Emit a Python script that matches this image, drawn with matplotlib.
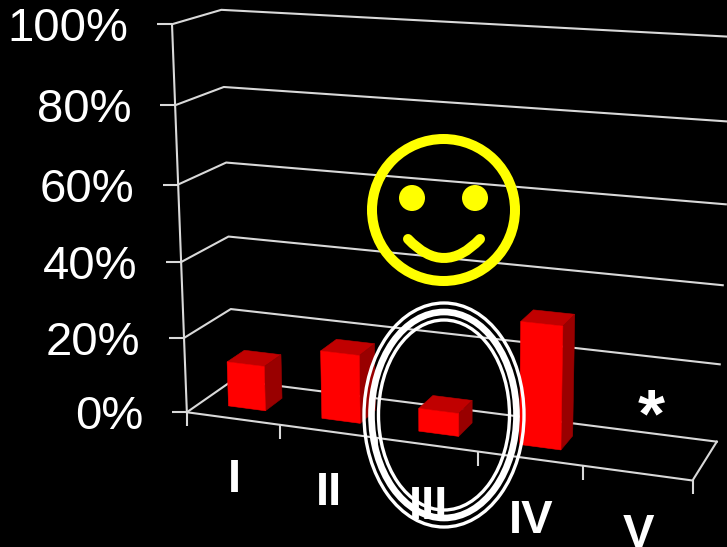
import numpy as np
import matplotlib
matplotlib.use("Agg")
import matplotlib.pyplot as plt
from matplotlib.patches import Polygon, Ellipse, Circle, PathPatch
from matplotlib.path import Path

# ---- data -----
categories = ["I", "II", "III", "IV", "V"]
values = [12, 18, 6, 31.5, 0]
value_ticks = [0, 20, 40, 60, 80, 100]
value_labels = ["0%", "20%", "40%", "60%", "80%", "100%"]
star_category = 4

# ---- camera calibration: (category pos, value, depth) -> picture pixel ----
calib = []
for v, fl, bl, br in zip(
    value_ticks,
    [(187, 412), (185, 338), (181, 262), (178, 184), (175, 105), (172, 24)],
    [(232, 380), (231, 309), (229, 237), (226, 163), (224, 87), (221, 10)],
    [(717, 441), (720, 364), (723, 285), (726, 204), (729, 122), (732, 37)],
):
    calib += [(0, v, 0, *fl), (0, v, 1, *bl), (5, v, 1, *br)]
calib += [(1, 0, 0, 280, 425), (2, 0, 0, 378, 438), (3, 0, 0, 478, 452),
          (4, 0, 0, 583, 466), (5, 0, 0, 692, 481)]
rows, rhs = [], []
for x, v, z, u, w in calib:
    X = [x, v / 100, z, 1]
    rows.append(X + [0, 0, 0, 0] + [-u * c for c in X[:3]]); rhs.append(u)
    rows.append([0, 0, 0, 0] + X + [-w * c for c in X[:3]]); rhs.append(w)
sol = np.linalg.lstsq(np.array(rows, float), np.array(rhs, float), rcond=None)[0]
P = np.append(sol, 1).reshape(3, 4)


def proj(x, v, z):
    h = P @ np.array([x, v / 100, z, 1.0])
    return (h[0] / h[2], h[1] / h[2])


# ---- figure ----
fig = plt.figure(figsize=(7.27, 5.47), dpi=100, facecolor="black")
ax = fig.add_axes([0, 0, 1, 1])
ax.set_xlim(0, 727)
ax.set_ylim(547, 0)
ax.axis("off")
plt.rcParams["font.family"] = ["Liberation Sans", "DejaVu Sans"]

GRID = "#D9D9D9"
LW = 1.5
n = len(categories)


def seg(a, b, lw=LW):
    ax.plot([a[0], b[0]], [a[1], b[1]], color=GRID, lw=lw, solid_capstyle="butt",
            solid_joinstyle="miter", zorder=1)


# walls + floor
for v, lab in zip(value_ticks, value_labels):
    fl, bl, br = proj(0, v, 0), proj(0, v, 1), proj(n, v, 1)
    ax.plot([fl[0], bl[0], br[0]], [fl[1], bl[1], br[1]], color=GRID, lw=LW, zorder=1)
    seg((fl[0] - 15, fl[1]), fl)
    ax.text(fl[0] - 43.5, fl[1] + 17, lab, color="white", fontsize=34, ha="right",
            va="baseline", zorder=6)
seg(proj(0, 100, 0), proj(0, 0, 0))
a = proj(0, 0, 0)
seg(a, (a[0], a[1] + 14))
ax.plot(*zip(proj(0, 0, 0), proj(n, 0, 0), proj(n, 0, 1)), color=GRID, lw=LW, zorder=1)
for i in range(1, n + 1):
    a = proj(i, 0, 0)
    seg(a, (a[0], a[1] + 14))

# bars
W0, W1, Z0, Z1 = 0.30, 0.70, 0.30, 0.68
for i, val in enumerate(values):
    if val <= 0:
        continue
    x0, x1 = i + W0, i + W1
    top = [proj(x0, val, Z0), proj(x1, val, Z0), proj(x1, val, Z1), proj(x0, val, Z1)]
    side = [proj(x1, 0, Z0), proj(x1, val, Z0), proj(x1, val, Z1), proj(x1, 0, Z1)]
    front = [proj(x0, 0, Z0), proj(x1, 0, Z0), proj(x1, val, Z0), proj(x0, val, Z0)]
    ax.add_patch(Polygon(top, fc="#C00000", ec="#C00000", lw=0.4, zorder=3))
    ax.add_patch(Polygon(side, fc="#990000", ec="#990000", lw=0.4, zorder=3))
    ax.add_patch(Polygon(front, fc="#FF0000", ec="#FF0000", lw=0.4, zorder=3))

# category labels
for i, lab in enumerate(categories):
    u, w = proj(i + 0.5, 0, 0)
    ax.text(u + 1, w + 74, lab, color="white", fontsize=34, fontweight="bold",
            ha="center", va="baseline", zorder=6)

# star on the empty category
u, w = proj(star_category + 0.5, 0, 0.5)
ax.text(u, w - 17, "*", color="white", fontsize=50, fontweight="bold",
        ha="center", va="baseline", zorder=6)

# triple ring
for rx, ry, lw in [(80, 112, 2.4), (72.5, 103, 4.8), (65.5, 95, 2.4)]:
    ax.add_patch(Ellipse((444, 415), 2 * rx, 2 * ry, fc="none", ec="white", lw=lw, zorder=7))

# smiley
YEL = "#FFFF00"
ax.add_patch(Ellipse((443.5, 210), 143, 142, fc="none", ec=YEL, lw=7.2, zorder=8))
ax.add_patch(Circle((412, 198), 13, fc=YEL, ec="none", zorder=8))
ax.add_patch(Circle((475, 198), 13, fc=YEL, ec="none", zorder=8))
smile = Path([(408, 239), (444, 277), (480, 239)], [Path.MOVETO, Path.CURVE3, Path.CURVE3])
ax.add_patch(PathPatch(smile, fc="none", ec=YEL, lw=7.2, capstyle="round", zorder=8))

fig.savefig("out.png", dpi=100, facecolor="black")
